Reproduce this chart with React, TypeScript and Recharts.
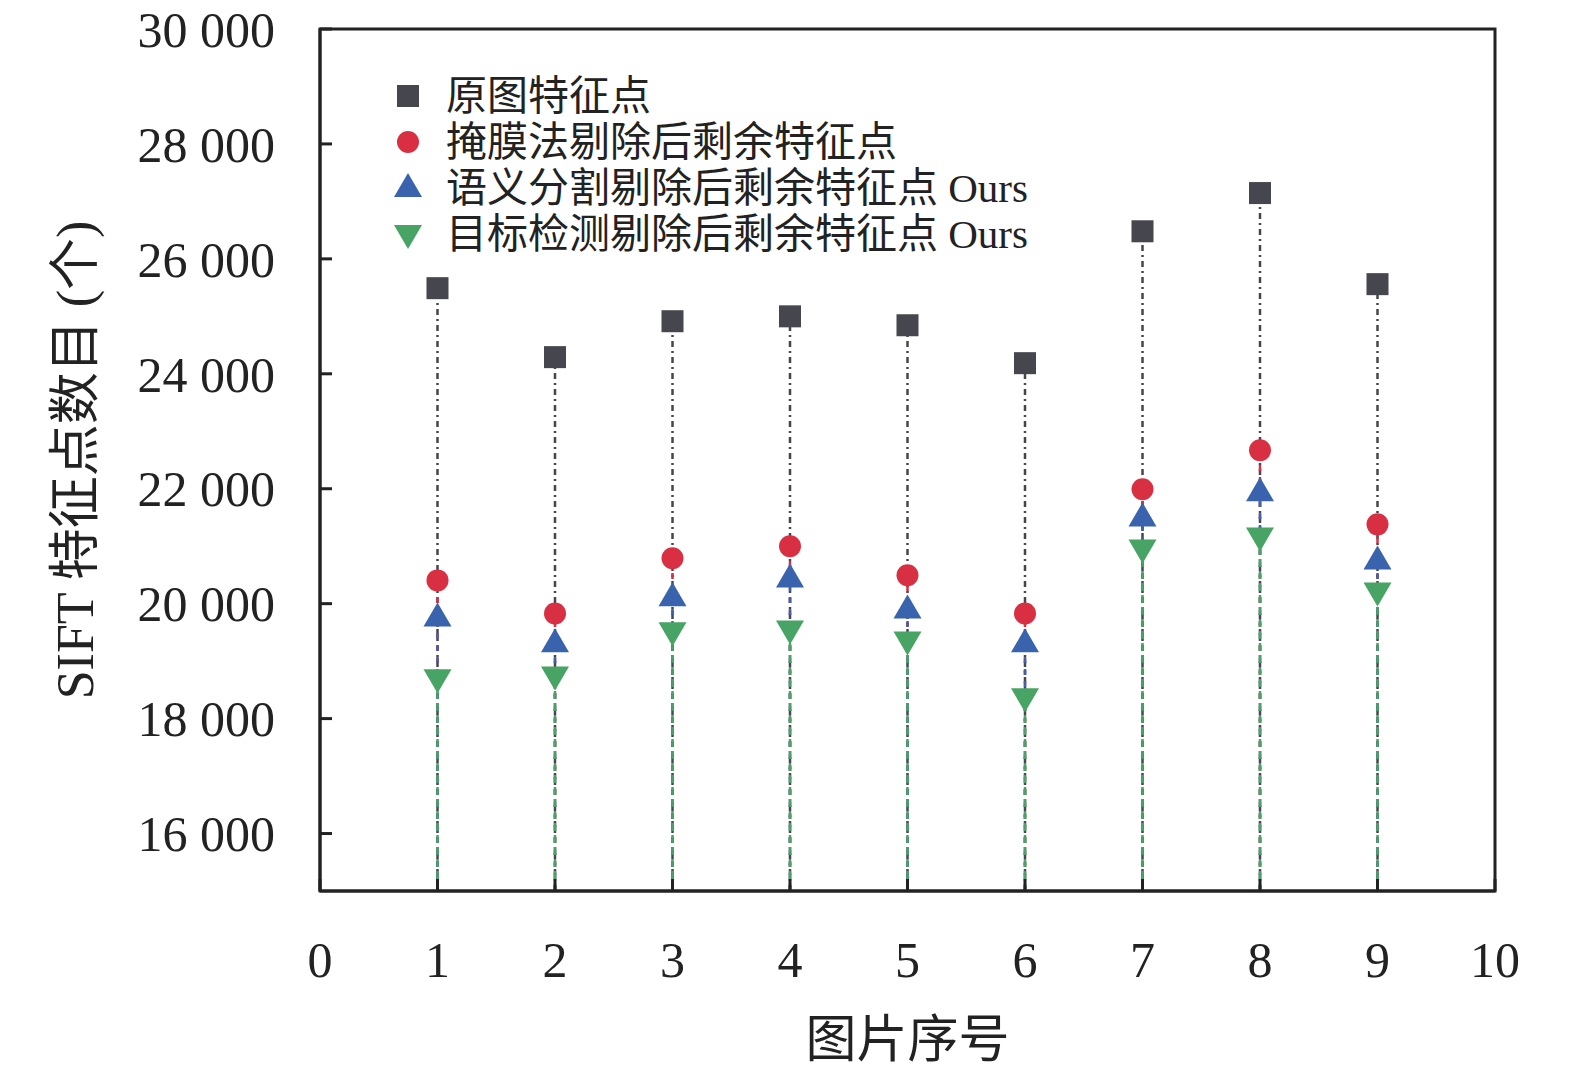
import React from "react";
import {
  ScatterChart,
  Scatter,
  XAxis,
  YAxis,
  ErrorBar,
  Legend,
  ReferenceArea,
} from "recharts";

const imageIds = [1, 2, 3, 4, 5, 6, 7, 8, 9];
const originalPts = [25490, 24290, 24915, 25000, 24845, 24185, 26480, 27145, 25560];
const maskPts = [20405, 19830, 20790, 21000, 20495, 19830, 21990, 22670, 21380];
const segPts = [19760, 19310, 20110, 20440, 19900, 19310, 21500, 21940, 20750];
const detPts = [18700, 18750, 19520, 19550, 19360, 18370, 20960, 21170, 20210];

const xTicks = [0, 1, 2, 3, 4, 5, 6, 7, 8, 9, 10];
const yTicks = [16000, 18000, 20000, 22000, 24000, 26000, 28000, 30000];
const Y_MIN = 15000;
const Y_MAX = 30000;

const FONT = "'Liberation Serif', 'Times New Roman', 'Noto Sans CJK SC', serif";

const series = [
  { name: "原图特征点", values: originalPts, color: "#46464e", shape: "square", dash: "6 4 2 4" },
  { name: "掩膜法剔除后剩余特征点", values: maskPts, color: "#d82f42", shape: "circle", dash: "6 6" },
  { name: "语义分割剔除后剩余特征点 Ours", values: segPts, color: "#3a63ad", shape: "up", dash: "5 7" },
  { name: "目标检测剔除后剩余特征点 Ours", values: detPts, color: "#47a464", shape: "down", dash: "8 4" },
];

const makeData = (values: number[]) =>
  imageIds.map((id, i) => ({ x: id, y: values[i], drop: [values[i] - Y_MIN, 0] }));

function Marker({ kind, color, cx, cy }: { kind: string; color: string; cx: number; cy: number }) {
  if (kind === "square") return <rect x={cx - 11} y={cy - 11} width={22} height={22} fill={color} />;
  if (kind === "circle") return <circle cx={cx} cy={cy} r={11} fill={color} />;
  if (kind === "up")
    return <polygon points={`${cx},${cy - 15} ${cx + 14},${cy + 9} ${cx - 14},${cy + 9}`} fill={color} />;
  return <polygon points={`${cx},${cy + 15} ${cx + 14},${cy - 9} ${cx - 14},${cy - 9}`} fill={color} />;
}

const fmtY = (v: number) => String(v).replace(/(\d)(\d{3})$/, "$1 $2");

function LegendBox() {
  return (
    <div style={{ fontFamily: FONT, fontSize: 41, color: "#222", lineHeight: "46px" }}>
      {series.map((s) => (
        <div key={s.name} style={{ display: "flex", alignItems: "center", height: 46, whiteSpace: "nowrap" }}>
          <svg width={36} height={36} style={{ marginRight: 20 }}>
            <Marker kind={s.shape} color={s.color} cx={18} cy={18} />
          </svg>
          <span>{s.name}</span>
        </div>
      ))}
    </div>
  );
}

export default function App() {
  return (
    <div style={{ position: "absolute", left: 0, top: 0, background: "#fff" }}>
      <ScatterChart
        width={1575}
        height={1069}
        margin={{ top: 29, right: 80, bottom: 58, left: 60 }}
      >
        <XAxis
          type="number"
          dataKey="x"
          domain={[0, 10]}
          ticks={xTicks}
          interval={0}
          allowDecimals={false}
          height={120}
          tickSize={-12}
          tickMargin={62}
          axisLine={{ stroke: "#222", strokeWidth: 3 }}
          tickLine={{ stroke: "#222", strokeWidth: 3 }}
          tick={{ fontFamily: FONT, fontSize: 50, fill: "#222" }}
          label={{
            value: "图片序号",
            position: "bottom",
            offset: 10,
            style: { fontFamily: FONT, fontSize: 51, fill: "#222" },
          }}
        />
        <YAxis
          type="number"
          dataKey="y"
          domain={[Y_MIN, Y_MAX]}
          ticks={yTicks}
          interval={0}
          width={260}
          tickSize={-12}
          tickMargin={57}
          tickFormatter={fmtY}
          axisLine={{ stroke: "#222", strokeWidth: 3 }}
          tickLine={{ stroke: "#222", strokeWidth: 3 }}
          tick={{ fontFamily: FONT, fontSize: 50, fill: "#222" }}
          label={{
            value: "SIFT 特征点数目 (个)",
            angle: -90,
            position: "insideLeft",
            offset: 15,
            style: { fontFamily: FONT, fontSize: 52, fill: "#222", textAnchor: "middle" },
          }}
        />
        <ReferenceArea
          x1={0}
          x2={10}
          y1={Y_MIN}
          y2={Y_MAX}
          fill="none"
          stroke="#222"
          strokeWidth={3}
        />
        <Legend
          layout="vertical"
          align="center"
          verticalAlign="middle"
          wrapperStyle={{ left: 390, top: 73, width: "auto", height: "auto" }}
          content={() => <LegendBox />}
        />
        {series.map((s) => (
          <Scatter
            key={s.name}
            name={s.name}
            data={makeData(s.values)}
            isAnimationActive={false}
            shape={(p: any) => <Marker kind={s.shape} color={s.color} cx={p.cx} cy={p.cy} />}
          >
            <ErrorBar
              dataKey="drop"
              direction="y"
              width={0}
              stroke={s.color}
              strokeWidth={2.5}
              strokeDasharray={s.dash}
              isAnimationActive={false}
            />
          </Scatter>
        ))}
      </ScatterChart>
    </div>
  );
}
